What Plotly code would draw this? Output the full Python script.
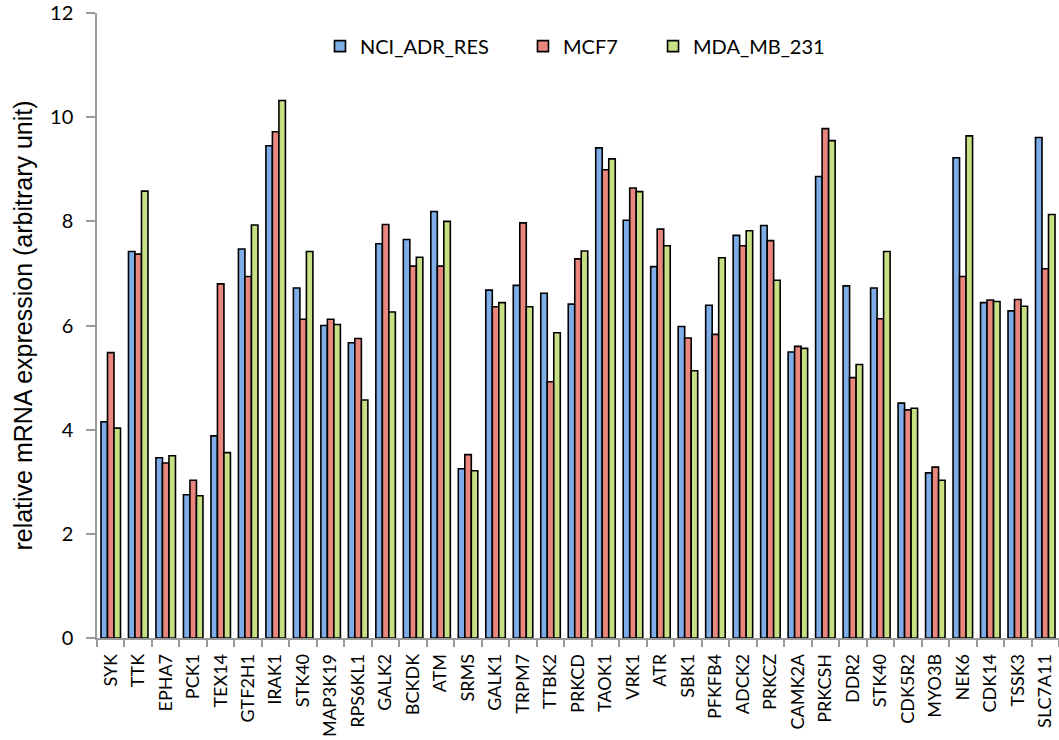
import plotly.graph_objects as go

categories = ["SYK", "TTK", "EPHA7", "PCK1", "TEX14", "GTF2H1", "IRAK1", "STK40", "MAP3K19",
              "RPS6KL1", "GALK2", "BCKDK", "ATM", "SRMS", "GALK1", "TRPM7", "TTBK2", "PRKCD",
              "TAOK1", "VRK1", "ATR", "SBK1", "PFKFB4", "ADCK2", "PRKCZ", "CAMK2A", "PRKCSH",
              "DDR2", "STK40", "CDK5R2", "MYO3B", "NEK6", "CDK14", "TSSK3", "SLC7A11"]

nci_adr_res = [4.15, 7.42, 3.46, 2.75, 3.88, 7.47, 9.45, 6.72, 6.00, 5.67, 7.57, 7.65, 8.19, 3.25,
               6.68, 6.77, 6.62, 6.41, 9.41, 8.02, 7.13, 5.98, 6.39, 7.73, 7.92, 5.49, 8.86, 6.76,
               6.72, 4.51, 3.17, 9.22, 6.44, 6.28, 9.61]
mcf7 = [5.48, 7.37, 3.36, 3.03, 6.80, 6.94, 9.72, 6.12, 6.12, 5.75, 7.94, 7.14, 7.14, 3.52,
        6.36, 7.97, 4.92, 7.28, 8.99, 8.64, 7.85, 5.76, 5.83, 7.53, 7.63, 5.60, 9.78, 5.00,
        6.13, 4.38, 3.28, 6.94, 6.49, 6.50, 7.09]
mda_mb_231 = [4.03, 8.58, 3.50, 2.73, 3.56, 7.93, 10.32, 7.42, 6.02, 4.57, 6.26, 7.31, 8.00, 3.21,
              6.44, 6.36, 5.86, 7.43, 9.20, 8.57, 7.53, 5.13, 7.30, 7.82, 6.87, 5.56, 9.55, 5.25,
              7.42, 4.41, 3.03, 9.64, 6.46, 6.37, 8.13]

series_names = ["NCI_ADR_RES", "MCF7", "MDA_MB_231"]
y_ticks = [0, 2, 4, 6, 8, 10, 12]

x_pos = list(range(len(categories)))
series = [nci_adr_res, mcf7, mda_mb_231]
colors = ["#7EADE8", "#E9877F", "#C6E083"]
legend_ids = ["legend", "legend2", "legend3"]

fig = go.Figure()
for name, vals, col in zip(series_names, series, colors):
    fig.add_trace(go.Bar(
        x=x_pos, y=vals, name=name, showlegend=False,
        marker=dict(color=col, line=dict(color="#000000", width=1.6)),
    ))
# legend entries (square swatches)
for name, col, lg in zip(series_names, colors, legend_ids):
    fig.add_trace(go.Scatter(
        x=[None], y=[None], mode="markers", name=name, legend=lg, showlegend=True,
        marker=dict(symbol="square", size=11, color=col, line=dict(color="#000000", width=1.6)),
    ))

legend_font = dict(family="Lato, Carlito, sans-serif", size=20, color="#000000")
common_leg = dict(orientation="h", yanchor="middle", y=0.947, xanchor="left",
                  bgcolor="rgba(0,0,0,0)", font=legend_font, itemwidth=30)

fig.update_layout(
    width=1059, height=740,
    margin=dict(l=97, r=0, t=13, b=102),
    plot_bgcolor="white", paper_bgcolor="white",
    showlegend=True,
    barmode="group", bargap=0.29, bargroupgap=0.0,
    legend=dict(x=0.2318, **common_leg),
    legend2=dict(x=0.4428, **common_leg),
    legend3=dict(x=0.578, **common_leg),
    xaxis=dict(
        range=[-0.5, len(categories) - 0.5],
        tickmode="array", tickvals=x_pos, ticktext=categories,
        tickangle=-90, ticks="", showgrid=False, automargin=False,
        showline=True, linecolor="#9a9a9a", linewidth=1.5,
        tickfont=dict(family="Lato, Carlito, sans-serif", size=18, color="#000000"),
        ticklabelstandoff=7,
        minor=dict(tick0=-0.5, dtick=1, ticks="outside", ticklen=7,
                   tickcolor="#9a9a9a", tickwidth=1.5, showgrid=False),
        zeroline=False,
    ),
    yaxis=dict(
        range=[0, 12], tickmode="array", tickvals=y_ticks, automargin=False,
        ticks="outside", ticklen=9, tickcolor="#9a9a9a", tickwidth=1.5,
        showline=True, linecolor="#9a9a9a", linewidth=1.5,
        showgrid=False, zeroline=False,
        ticklabelstandoff=9,
        tickfont=dict(family="Lato, Carlito, sans-serif", size=20, color="#000000"),
        title=dict(text="relative mRNA expression (arbitrary unit)",
                   font=dict(family="Liberation Sans, Arial, sans-serif", size=25, color="#000000"),
                   standoff=10),
    ),
)

fig.write_html("out.html")
